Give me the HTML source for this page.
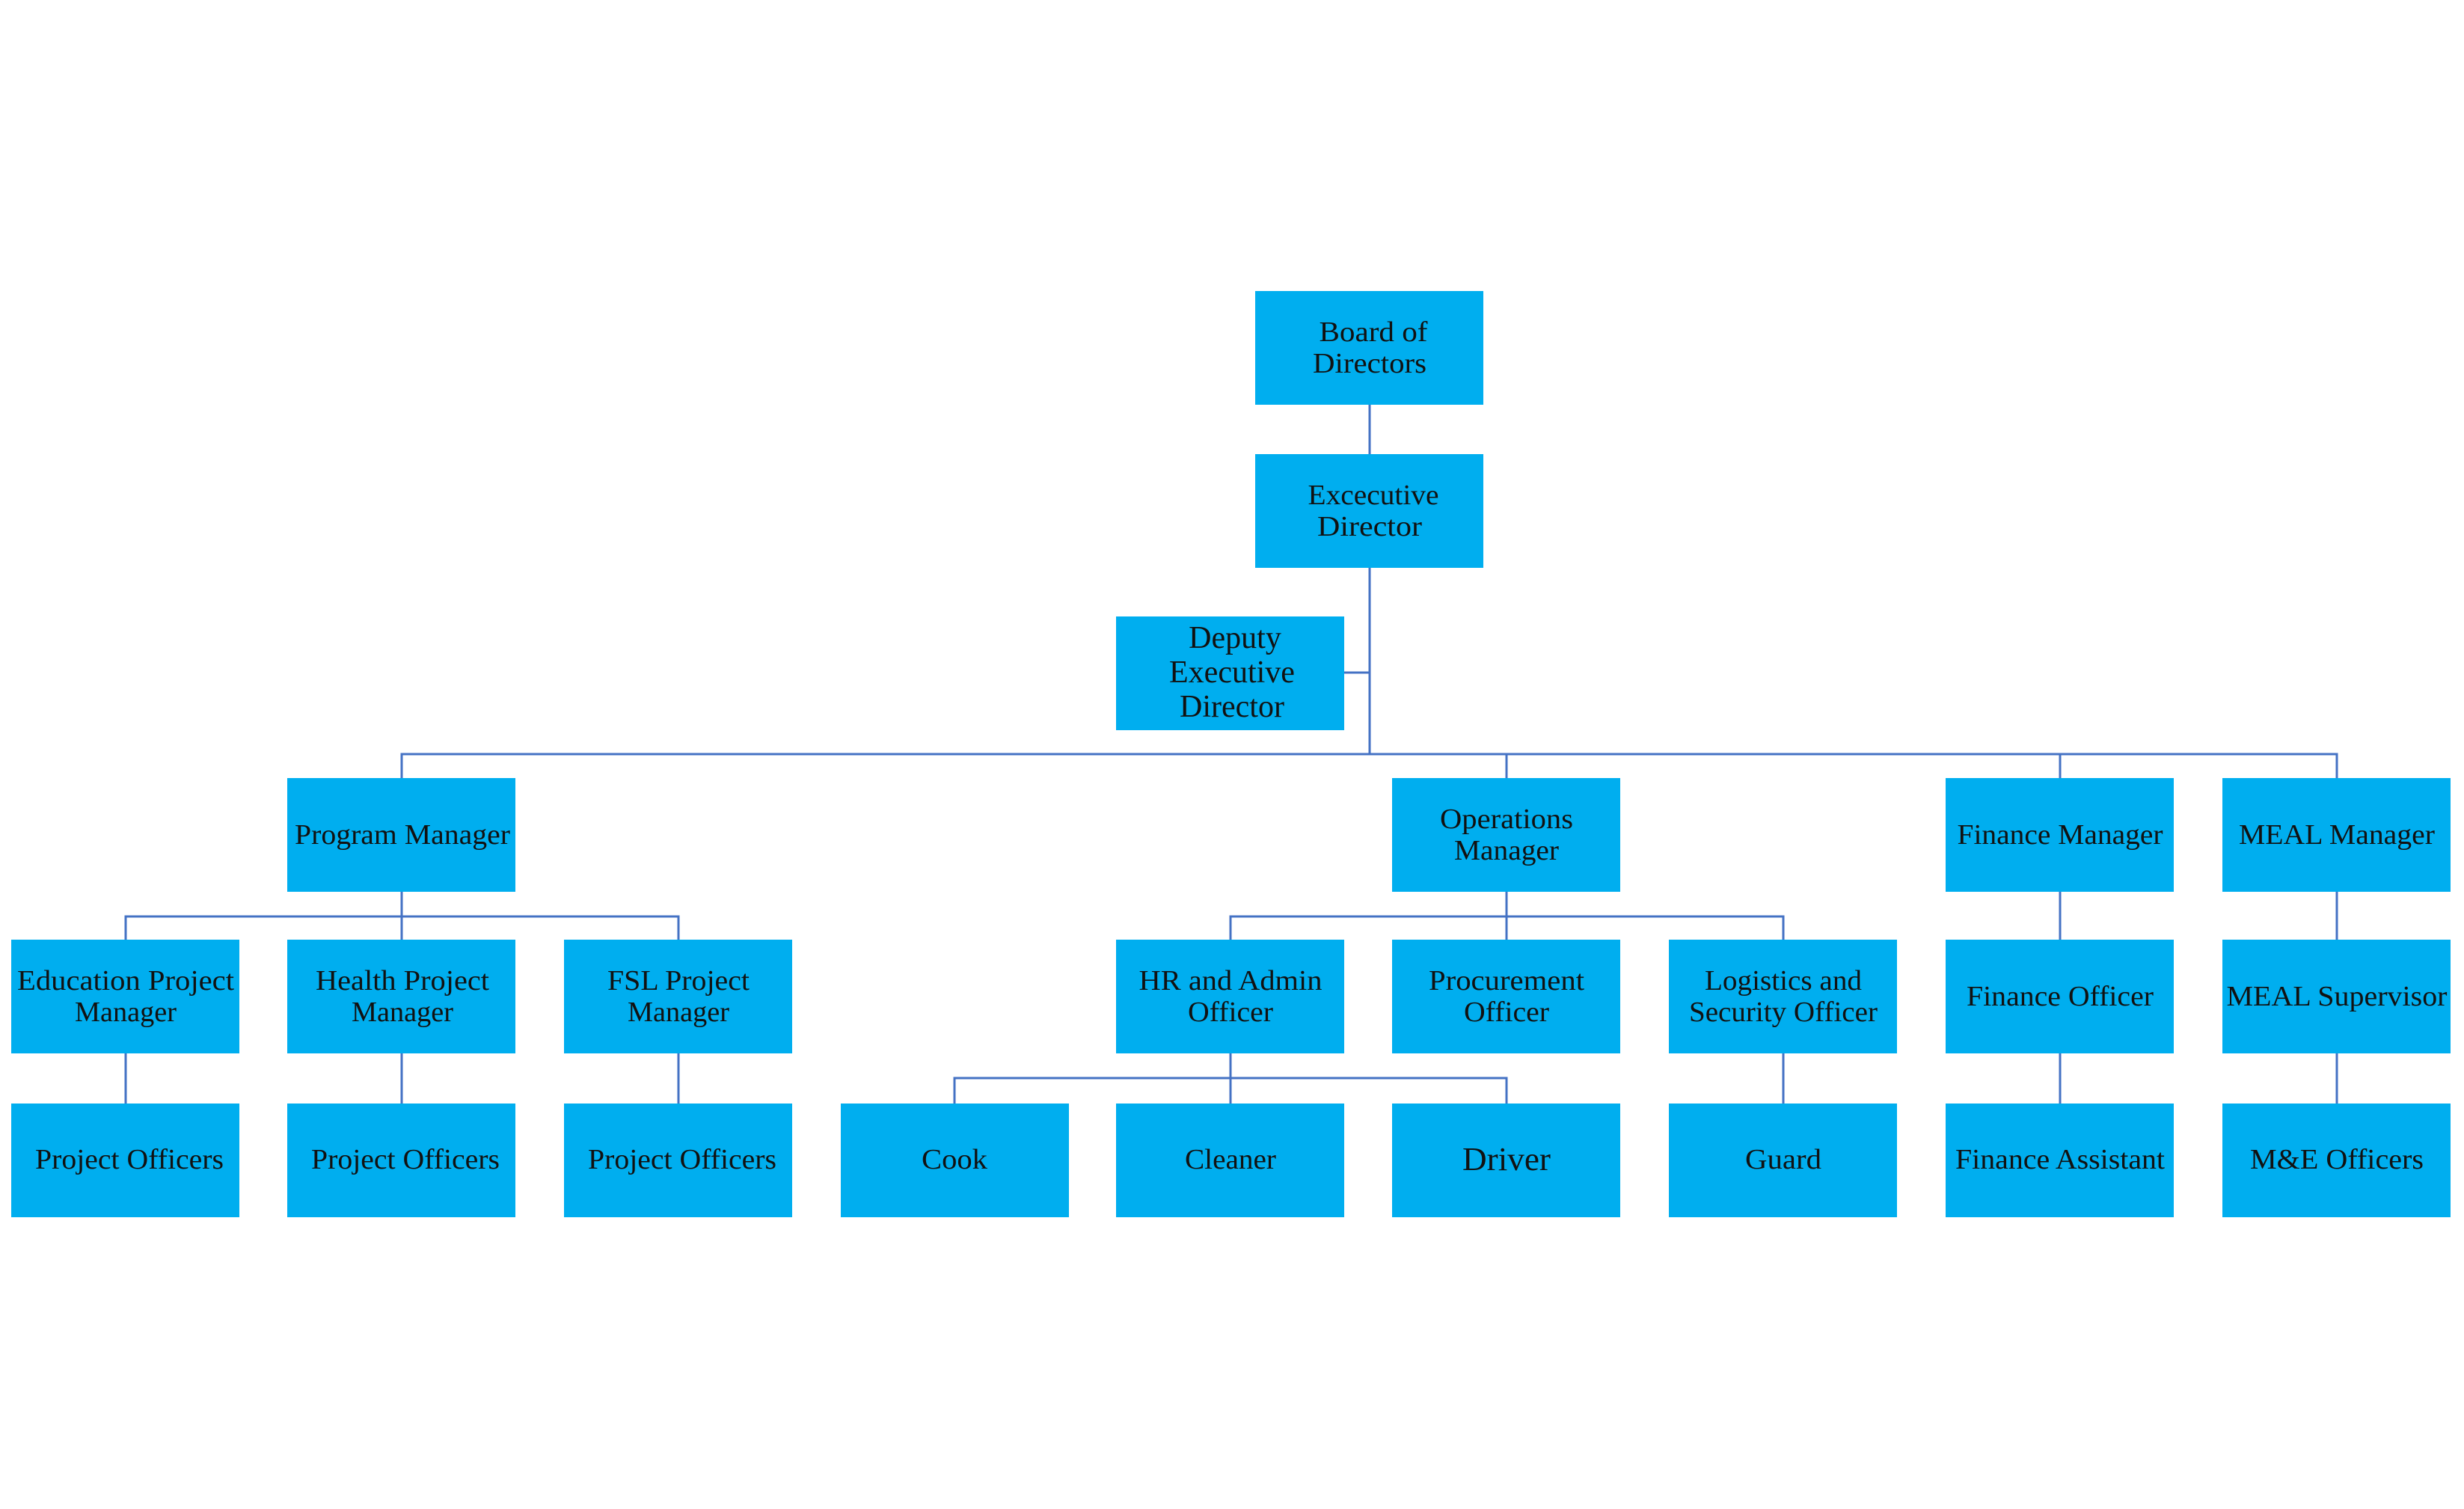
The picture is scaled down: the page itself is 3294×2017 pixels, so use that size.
<!DOCTYPE html>
<html><head><meta charset="utf-8"><style>html,body{margin:0;padding:0;background:#fff}svg{display:block}</style></head>
<body>
<svg width="3294" height="2017" viewBox="0 0 3294 2017" xmlns="http://www.w3.org/2000/svg" font-family="'Liberation Serif', serif" font-size="38" fill="#111">
<g stroke="#4472C4" stroke-width="3" fill="none">
<line x1="1831" y1="541" x2="1831" y2="607"/>
<line x1="1831" y1="759" x2="1831" y2="1008"/>
<line x1="1797" y1="899" x2="1831" y2="899"/>
<path d="M537 1040V1008H3124V1040M2014 1008V1040M2754 1008V1040"/>
<path d="M537 1192V1225M168 1256V1225H907V1256M537 1225V1256"/>
<path d="M2014 1192V1225M1645 1256V1225H2384V1256M2014 1225V1256"/>
<path d="M2754 1192V1256M3124 1192V1256"/>
<path d="M168 1408V1475M537 1408V1475M907 1408V1475M2384 1408V1475M2754 1408V1475M3124 1408V1475"/>
<path d="M1645 1408V1441M1276 1475V1441H2014V1475M1645 1441V1475"/>
</g>
<g fill="#00AEEF">
<rect x="1678" y="389" width="305" height="152"/>
<rect x="1678" y="607" width="305" height="152"/>
<rect x="1492" y="824" width="305" height="152"/>
<rect x="384" y="1040" width="305" height="152"/>
<rect x="1861" y="1040" width="305" height="152"/>
<rect x="2601" y="1040" width="305" height="152"/>
<rect x="2971" y="1040" width="305" height="152"/>
<rect x="15" y="1256" width="305" height="152"/>
<rect x="384" y="1256" width="305" height="152"/>
<rect x="754" y="1256" width="305" height="152"/>
<rect x="1492" y="1256" width="305" height="152"/>
<rect x="1861" y="1256" width="305" height="152"/>
<rect x="2231" y="1256" width="305" height="152"/>
<rect x="2601" y="1256" width="305" height="152"/>
<rect x="2971" y="1256" width="305" height="152"/>
<rect x="15" y="1475" width="305" height="152"/>
<rect x="384" y="1475" width="305" height="152"/>
<rect x="754" y="1475" width="305" height="152"/>
<rect x="1124" y="1475" width="305" height="152"/>
<rect x="1492" y="1475" width="305" height="152"/>
<rect x="1861" y="1475" width="305" height="152"/>
<rect x="2231" y="1475" width="305" height="152"/>
<rect x="2601" y="1475" width="305" height="152"/>
<rect x="2971" y="1475" width="305" height="152"/>
</g>
<g text-anchor="middle">
<text x="1836" y="456" textLength="145" lengthAdjust="spacingAndGlyphs">Board of</text>
<text x="1831" y="498" textLength="152" lengthAdjust="spacingAndGlyphs">Directors</text>
<text x="1836" y="674" textLength="175" lengthAdjust="spacingAndGlyphs">Excecutive</text>
<text x="1831" y="716" textLength="140" lengthAdjust="spacingAndGlyphs">Director</text>
<text x="1651" y="866" font-size="42">Deputy</text>
<text x="1647" y="912" font-size="42">Executive</text>
<text x="1647" y="958" font-size="42">Director</text>
<text x="538" y="1128" textLength="288" lengthAdjust="spacingAndGlyphs">Program Manager</text>
<text x="2014" y="1107" textLength="178" lengthAdjust="spacingAndGlyphs">Operations</text>
<text x="2014" y="1149" textLength="140" lengthAdjust="spacingAndGlyphs">Manager</text>
<text x="2754" y="1128" textLength="275" lengthAdjust="spacingAndGlyphs">Finance Manager</text>
<text x="3124" y="1128" textLength="262" lengthAdjust="spacingAndGlyphs">MEAL Manager</text>
<text x="168" y="1323" textLength="290" lengthAdjust="spacingAndGlyphs">Education Project</text>
<text x="168" y="1365" textLength="136" lengthAdjust="spacingAndGlyphs">Manager</text>
<text x="538" y="1323" textLength="232" lengthAdjust="spacingAndGlyphs">Health Project</text>
<text x="538" y="1365" textLength="136" lengthAdjust="spacingAndGlyphs">Manager</text>
<text x="907" y="1323" textLength="190" lengthAdjust="spacingAndGlyphs">FSL Project</text>
<text x="907" y="1365" textLength="136" lengthAdjust="spacingAndGlyphs">Manager</text>
<text x="1645" y="1323" textLength="245" lengthAdjust="spacingAndGlyphs">HR and Admin</text>
<text x="1645" y="1365" textLength="114" lengthAdjust="spacingAndGlyphs">Officer</text>
<text x="2014" y="1323" textLength="208" lengthAdjust="spacingAndGlyphs">Procurement</text>
<text x="2014" y="1365" textLength="114" lengthAdjust="spacingAndGlyphs">Officer</text>
<text x="2384" y="1323" textLength="210" lengthAdjust="spacingAndGlyphs">Logistics and</text>
<text x="2384" y="1365" textLength="252" lengthAdjust="spacingAndGlyphs">Security Officer</text>
<text x="2754" y="1344" textLength="250" lengthAdjust="spacingAndGlyphs">Finance Officer</text>
<text x="3124" y="1344" textLength="295" lengthAdjust="spacingAndGlyphs">MEAL Supervisor</text>
<text x="173" y="1562" textLength="252" lengthAdjust="spacingAndGlyphs">Project Officers</text>
<text x="542" y="1562" textLength="252" lengthAdjust="spacingAndGlyphs">Project Officers</text>
<text x="912" y="1562" textLength="252" lengthAdjust="spacingAndGlyphs">Project Officers</text>
<text x="1276" y="1562" textLength="88" lengthAdjust="spacingAndGlyphs">Cook</text>
<text x="1645" y="1562" textLength="122" lengthAdjust="spacingAndGlyphs">Cleaner</text>
<text x="2014" y="1564" font-size="44" textLength="118" lengthAdjust="spacingAndGlyphs">Driver</text>
<text x="2384" y="1562" textLength="102" lengthAdjust="spacingAndGlyphs">Guard</text>
<text x="2754" y="1562" textLength="280" lengthAdjust="spacingAndGlyphs">Finance Assistant</text>
<text x="3124" y="1562" textLength="232" lengthAdjust="spacingAndGlyphs">M&amp;E Officers</text>
</g>
</svg>
</body></html>
